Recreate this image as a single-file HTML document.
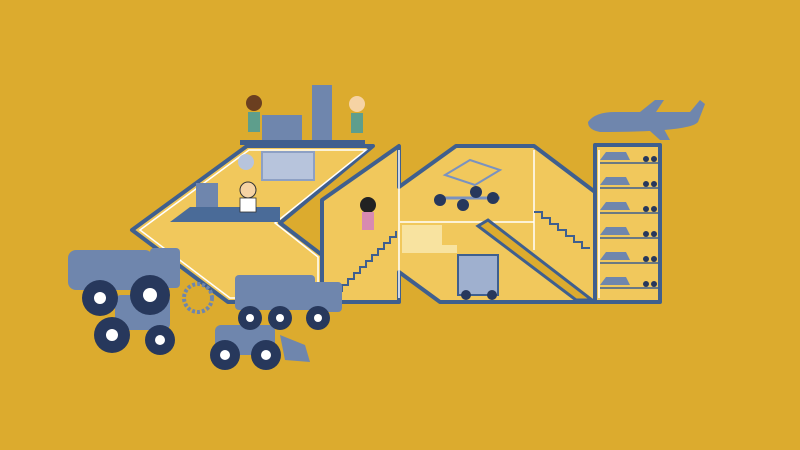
<!DOCTYPE html>
<html><head><meta charset="utf-8"><style>
html,body{margin:0;padding:0;width:800px;height:450px;overflow:hidden;background:#dcab2e}
</style></head><body>
<svg width="800" height="450" viewBox="0 0 800 450" xmlns="http://www.w3.org/2000/svg">
<rect width="800" height="450" fill="#dcab2e"/>
<g stroke="#3f5f8e" stroke-width="4" stroke-linejoin="round" fill="#f1c85c">
 <polygon points="132,230 247,146 373,146 280,223 322,255 322,302 228,302"/>
 <polygon points="322,200 399,146 399,187 456,146 534,146 595,192 595,302 440,302 399,272 399,302 322,302"/>
 <rect x="595" y="145" width="65" height="157"/>
</g>
<g stroke="#fff" stroke-width="1.5" fill="none">
 <polygon points="140,230 249,150 366,150 275,223 318,257 318,298 230,298"/>
 <line x1="399" y1="150" x2="399" y2="298"/>
 <line x1="400" y1="222" x2="534" y2="222"/>
 <line x1="534" y1="150" x2="534" y2="250"/>
 <line x1="599" y1="150" x2="599" y2="298"/>
</g>
<polygon points="478,226 488,220 592,300 576,300" fill="#dcab2e" stroke="#3f5f8e" stroke-width="3"/>
<!-- office -->
<polygon points="170,222 190,207 280,207 280,222" fill="#4a6b98"/>
<rect x="262" y="152" width="52" height="28" fill="#b7c4dc" stroke="#8da0c4" stroke-width="2"/>
<circle cx="246" cy="162" r="8" fill="#b7c4dc"/>
<rect x="196" y="183" width="22" height="24" fill="#6f86ad"/>
<circle cx="248" cy="190" r="8" fill="#f6d3a4" stroke="#333" stroke-width="1"/>
<rect x="240" y="198" width="16" height="14" fill="#fff" stroke="#333" stroke-width="0.8"/>
<!-- top people -->
<rect x="262" y="115" width="40" height="25" fill="#6f86ad"/>
<rect x="312" y="85" width="20" height="55" fill="#6f86ad"/>
<rect x="240" y="140" width="125" height="5" fill="#3f5f8e"/>
<circle cx="254" cy="103" r="8" fill="#6b3f20"/><rect x="248" y="112" width="12" height="20" fill="#5e9e8c"/>
<circle cx="357" cy="104" r="8" fill="#f6d3a4"/><rect x="351" y="113" width="12" height="20" fill="#5e9e8c"/>
<!-- stairs -->
<polyline points="330,297 336,297 336,291 342,291 342,285 348,285 348,279 354,279 354,273 360,273 360,267 366,267 366,261 372,261 372,255 378,255 378,249 384,249 384,243 390,243 390,237 396,237 396,231" fill="none" stroke="#3f5f8e" stroke-width="2"/>
<polyline points="534,212 542,212 542,218 550,218 550,224 558,224 558,230 566,230 566,236 574,236 574,242 582,242 582,248 590,248" fill="none" stroke="#3f5f8e" stroke-width="2"/>
<circle cx="368" cy="205" r="8" fill="#222"/><rect x="362" y="212" width="12" height="18" fill="#d88ab0"/>
<!-- middle chassis -->
<line x1="438" y1="198" x2="500" y2="198" stroke="#7a92c0" stroke-width="3"/>
<g fill="#27385c"><circle cx="440" cy="200" r="6"/><circle cx="463" cy="205" r="6"/><circle cx="476" cy="192" r="6"/><circle cx="493" cy="198" r="6"/></g>
<polygon points="445,175 470,160 500,170 475,185" fill="none" stroke="#7a92c0" stroke-width="2"/>
<g fill="#f8e3a0"><rect x="402" y="225" width="40" height="20"/><rect x="402" y="245" width="55" height="8"/></g>
<rect x="458" y="255" width="40" height="40" fill="#9fb0cf" stroke="#3f5f8e" stroke-width="2"/>
<g fill="#27385c"><circle cx="466" cy="295" r="5"/><circle cx="492" cy="295" r="5"/></g>
<!-- tower cars -->
<g fill="#6f86ad">
 <path d="M600,160 h30 l-4,-8 h-20 z"/><path d="M600,185 h30 l-4,-8 h-20 z"/><path d="M600,210 h30 l-4,-8 h-20 z"/>
 <path d="M600,235 h30 l-4,-8 h-20 z"/><path d="M600,260 h30 l-4,-8 h-20 z"/><path d="M600,285 h30 l-4,-8 h-20 z"/>
</g>
<g fill="#27385c">
 <circle cx="646" cy="159" r="3"/><circle cx="654" cy="159" r="3"/><circle cx="646" cy="184" r="3"/><circle cx="654" cy="184" r="3"/>
 <circle cx="646" cy="209" r="3"/><circle cx="654" cy="209" r="3"/><circle cx="646" cy="234" r="3"/><circle cx="654" cy="234" r="3"/>
 <circle cx="646" cy="259" r="3"/><circle cx="654" cy="259" r="3"/><circle cx="646" cy="284" r="3"/><circle cx="654" cy="284" r="3"/>
</g>
<g stroke="#3f5f8e" stroke-width="1.5"><line x1="600" y1="163" x2="660" y2="163"/><line x1="600" y1="188" x2="660" y2="188"/><line x1="600" y1="213" x2="660" y2="213"/><line x1="600" y1="238" x2="660" y2="238"/><line x1="600" y1="263" x2="660" y2="263"/><line x1="600" y1="288" x2="660" y2="288"/></g>
<!-- airplane -->
<g fill="#6f86ad">
 <path d="M588,122 Q595,112 615,112 L690,112 L700,100 L705,104 L698,122 Q690,132 600,132 Q588,130 588,122 z"/>
 <polygon points="640,122 660,140 670,140 660,122"/>
 <polygon points="640,112 655,100 664,100 656,112"/>
</g>
<!-- vehicles -->
<g fill="#6f86ad">
 <rect x="68" y="250" width="85" height="40" rx="8"/>
 <rect x="150" y="248" width="30" height="40" rx="4"/>
 <rect x="115" y="295" width="55" height="35" rx="6"/>
 <rect x="235" y="275" width="80" height="35" rx="4"/>
 <rect x="312" y="282" width="30" height="30" rx="4"/>
 <rect x="215" y="325" width="60" height="30" rx="6"/>
 <polygon points="280,335 305,345 310,362 285,360"/>
</g>
<circle cx="198" cy="298" r="14" fill="none" stroke="#6f86ad" stroke-width="4" stroke-dasharray="3 2"/>
<g fill="#27385c">
 <circle cx="100" cy="298" r="18"/><circle cx="150" cy="295" r="20"/>
 <circle cx="112" cy="335" r="18"/><circle cx="160" cy="340" r="15"/>
 <circle cx="250" cy="318" r="12"/><circle cx="280" cy="318" r="12"/><circle cx="318" cy="318" r="12"/>
 <circle cx="225" cy="355" r="15"/><circle cx="266" cy="355" r="15"/>
</g>
<g fill="#fff"><circle cx="100" cy="298" r="6"/><circle cx="150" cy="295" r="7"/><circle cx="112" cy="335" r="6"/><circle cx="160" cy="340" r="5"/><circle cx="250" cy="318" r="4"/><circle cx="280" cy="318" r="4"/><circle cx="318" cy="318" r="4"/><circle cx="225" cy="355" r="5"/><circle cx="266" cy="355" r="5"/></g>
</svg>
</body></html>
